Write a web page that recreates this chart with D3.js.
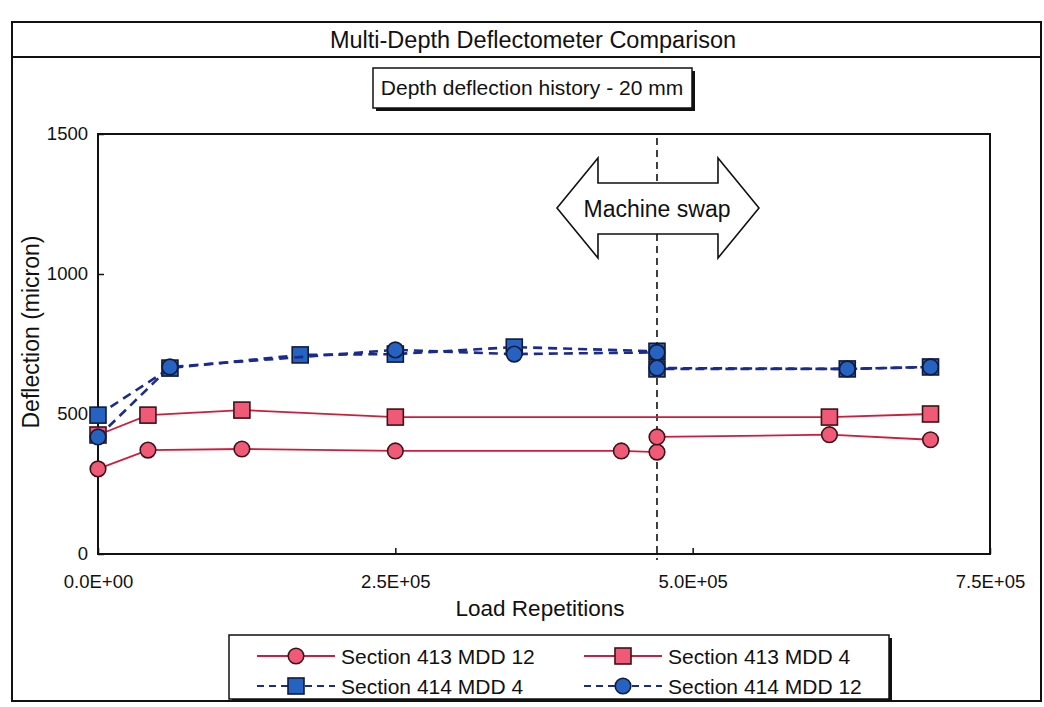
<!DOCTYPE html>
<html>
<head>
<meta charset="utf-8">
<script src="https://cdn.jsdelivr.net/npm/d3@7"></script>
<style>
  body { margin: 0; background: #fff; }
  svg text { font-family: Arial, "Liberation Sans", sans-serif; fill: #111; }
</style>
</head>
<body>
<div id="chart"></div>
<script>
// data
var s413_12_x = [0, 42000, 121000, 250000, 440000, 470000, 470000, 615000, 700000];
var s413_12_y = [304, 371, 375, 368, 368, 364, 418, 426, 408];
var s413_4_x = [0, 42000, 121000, 250000, 615000, 700000];
var s413_4_y = [425, 496, 514, 489, 489, 500];
var s414_4_x = [0, 60500, 170000, 250000, 350000, 470000, 470000, 630000, 700000];
var s414_4_y = [496, 664, 711, 714, 739, 724, 661, 661, 668];
var s414_12_x = [0, 60500, 250000, 350000, 470000, 470000, 630000, 700000];
var s414_12_y = [418, 668, 729, 714, 720, 664, 661, 668];
var yTicks = [0, 500, 1000, 1500];
var xTicks = [0, 250000, 500000, 750000];
var swapX = 470000;

var pinkFill = "#f05a76", redLine = "#d01c3c";
var blueFill = "#2562c2", blueLine = "#1a2a8e";

var W = 1044, H = 707;
var svg = d3.select("#chart").append("svg")
    .attr("width", W).attr("height", H);

var font = "Arial, 'Liberation Sans', sans-serif";

// outer frame + title band
svg.append("rect").attr("x", 12).attr("y", 22).attr("width", 1029).attr("height", 679)
    .attr("fill", "none").attr("stroke", "#111").attr("stroke-width", 2);
svg.append("line").attr("x1", 12).attr("x2", 1041).attr("y1", 57).attr("y2", 57)
    .attr("stroke", "#111").attr("stroke-width", 2);
svg.append("text").attr("x", 533).attr("y", 48).attr("text-anchor", "middle")
    .style("font-size", "23.5px").text("Multi-Depth Deflectometer Comparison");

// subtitle box with shadow
svg.append("rect").attr("x", 376).attr("y", 71).attr("width", 319).attr("height", 40).attr("fill", "#111");
svg.append("rect").attr("x", 373).attr("y", 68).attr("width", 319).attr("height", 40)
    .attr("fill", "#fff").attr("stroke", "#111").attr("stroke-width", 1.5);
svg.append("text").attr("x", 532).attr("y", 95).attr("text-anchor", "middle")
    .style("font-size", "21px").text("Depth deflection history - 20 mm");

var x = d3.scaleLinear().domain([0, 750000]).range([98, 990]);
var y = d3.scaleLinear().domain([0, 1500]).range([554, 134]);

// plot box
svg.append("rect").attr("x", x(0)).attr("y", y(1500))
    .attr("width", x(750000) - x(0)).attr("height", y(0) - y(1500))
    .attr("fill", "none").attr("stroke", "#111").attr("stroke-width", 2);

function sciFmt(v) {
    var p = v.toExponential(1).split("e");
    var e = p[1];
    return p[0] + "E" + e[0] + e.slice(1).padStart(2, "0");
}

var yAxis = svg.append("g").attr("transform", "translate(" + x(0) + ",0)")
    .call(d3.axisLeft(y).tickValues(yTicks).tickSize(-6).tickPadding(10).tickFormat(d3.format("d")));
yAxis.select(".domain").remove();
yAxis.selectAll("line").attr("stroke", "#111").attr("stroke-width", 1.5);
yAxis.selectAll("text").style("font-size", "18.5px").style("font-family", font).attr("fill", "#111");

var xAxis = svg.append("g").attr("transform", "translate(0," + y(0) + ")")
    .call(d3.axisBottom(x).tickValues(xTicks).tickSize(-6).tickPadding(21).tickFormat(sciFmt));
xAxis.select(".domain").remove();
xAxis.selectAll("line").attr("stroke", "#111").attr("stroke-width", 1.5);
xAxis.selectAll("text").style("font-size", "18.5px").style("font-family", font).attr("fill", "#111");

// axis titles
svg.append("text").attr("x", 540).attr("y", 616).attr("text-anchor", "middle")
    .style("font-size", "22.5px").text("Load Repetitions");
svg.append("text").attr("transform", "translate(39,332) rotate(-90)").attr("text-anchor", "middle")
    .style("font-size", "23px").text("Deflection (micron)");

// machine swap line
svg.append("line").attr("x1", x(swapX)).attr("x2", x(swapX))
    .attr("y1", y(1500) + 4).attr("y2", y(0) + 6)
    .attr("stroke", "#111").attr("stroke-width", 1.6).attr("stroke-dasharray", "7,5");

// double arrow annotation
var ac = x(swapX), ay = 208;
var arrowPts = [[-100, 0], [-59, -50], [-59, -25], [61, -25], [61, -50], [102, 0],
    [61, 50], [61, 26], [-59, 26], [-59, 50]];
svg.append("polygon")
    .attr("points", arrowPts.map(function (p) { return (ac + p[0]) + "," + (ay + p[1]); }).join(" "))
    .attr("fill", "#fff").attr("stroke", "#111").attr("stroke-width", 1.6);
svg.append("text").attr("x", ac).attr("y", ay + 9).attr("text-anchor", "middle")
    .style("font-size", "23px").text("Machine swap");

var series = [
    {name: "Section 413 MDD 12", xs: s413_12_x, ys: s413_12_y, shape: "circle", fill: pinkFill, line: redLine, dash: null, stroke: "#3a1418"},
    {name: "Section 413 MDD 4", xs: s413_4_x, ys: s413_4_y, shape: "square", fill: pinkFill, line: redLine, dash: null, stroke: "#3a1418"},
    {name: "Section 414 MDD 4", xs: s414_4_x, ys: s414_4_y, shape: "square", fill: blueFill, line: blueLine, dash: "9,6", stroke: "#121a3a"},
    {name: "Section 414 MDD 12", xs: s414_12_x, ys: s414_12_y, shape: "circle", fill: blueFill, line: blueLine, dash: "9,6", stroke: "#121a3a"}
];

var lineGen = d3.line().x(function (d) { return x(d[0]); }).y(function (d) { return y(d[1]); });

function marker(g, s, cx, cy) {
    if (s.shape === "circle") {
        g.append("circle").attr("cx", cx).attr("cy", cy).attr("r", 7.8)
            .attr("fill", s.fill).attr("stroke", s.stroke).attr("stroke-width", 1.6);
    } else {
        g.append("rect").attr("x", cx - 8).attr("y", cy - 8).attr("width", 16).attr("height", 16)
            .attr("fill", s.fill).attr("stroke", s.stroke).attr("stroke-width", 1.6);
    }
}

series.forEach(function (s) {
    var pts = s.xs.map(function (v, i) { return [v, s.ys[i]]; });
    var g = svg.append("g");
    g.append("path").attr("d", lineGen(pts)).attr("fill", "none")
        .attr("stroke", s.line).attr("stroke-width", s.dash ? 2.6 : 1.8)
        .attr("stroke-dasharray", s.dash);
    pts.forEach(function (p) { marker(g, s, x(p[0]), y(p[1])); });
});

// legend
svg.append("rect").attr("x", 232).attr("y", 638).attr("width", 660).attr("height", 64).attr("fill", "#111");
svg.append("rect").attr("x", 229).attr("y", 635).attr("width", 660).attr("height", 64)
    .attr("fill", "#fff").attr("stroke", "#111").attr("stroke-width", 1.5);
var legPos = [[257, 656], [584, 656], [257, 686], [584, 686]];
series.forEach(function (s, i) {
    var lx = legPos[i][0], ly = legPos[i][1];
    var g = svg.append("g");
    g.append("line").attr("x1", lx).attr("x2", lx + 78).attr("y1", ly).attr("y2", ly)
        .attr("stroke", s.line).attr("stroke-width", s.dash ? 2 : 1.8)
        .attr("stroke-dasharray", s.dash ? "7,5" : null);
    marker(g, s, lx + 39, ly);
    g.append("text").attr("x", lx + 84).attr("y", ly + 7.5)
        .style("font-size", "21px").text(s.name);
});
</script>
</body>
</html>
